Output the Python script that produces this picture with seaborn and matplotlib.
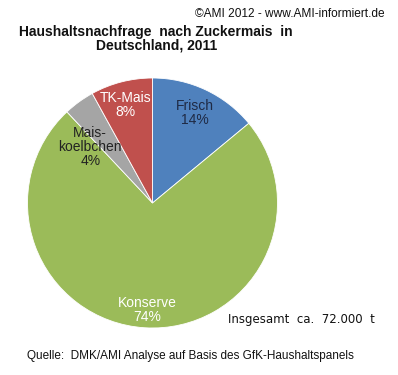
import numpy as np
import matplotlib
matplotlib.use("Agg")
import matplotlib.pyplot as plt
import seaborn as sns

sns.set_theme(style="white")
plt.rcParams['font.family'] = ['Liberation Sans', 'DejaVu Sans']

categories = ["Frisch", "Konserve", "Mais-\nkoelbchen", "TK-Mais"]
shares = [14, 74, 4, 8]
colors = ["#4F81BD", "#9BBB59", "#A5A5A5", "#C0504D"]
text_colors = ["#1F2A44", "white", "#222222", "white"]
label_radius = [0.80, 0.86, 0.67, 0.81]
label_angle_shift = [0, 1, 12, 1]

fig = plt.figure(figsize=(3.98, 3.75), dpi=100)
fig.patch.set_facecolor("white")
ax = fig.add_axes([27.5 / 398, 47 / 375, 250 / 398, 250 / 375])
wedges, _ = ax.pie(shares, colors=colors, startangle=90, counterclock=False,
                   radius=1, wedgeprops=dict(edgecolor="white", linewidth=0.6))
ax.set_xlim(-1, 1)
ax.set_ylim(-1, 1)
ax.set_aspect("auto")
ax.axis("off")

for w, cat, val, tc, r, da in zip(wedges, categories, shares, text_colors,
                                   label_radius, label_angle_shift):
    ang = np.deg2rad((w.theta1 + w.theta2) / 2 + da)
    ax.text(r * np.cos(ang), r * np.sin(ang), f"{cat}\n{val}%", ha="center",
            va="center", fontsize=10, color=tc, linespacing=1.0)

fig.text(385 / 398, 1 - 14 / 375, "©AMI 2012 - www.AMI-informiert.de",
         ha="right", va="center", fontsize=8.6, color="#111111")
fig.text(156 / 398, 1 - 32 / 375, "Haushaltsnachfrage  nach Zuckermais  in",
         ha="center", va="center", fontsize=10, fontweight="bold", color="#111111")
fig.text(157 / 398, 1 - 45 / 375, "Deutschland, 2011",
         ha="center", va="center", fontsize=10, fontweight="bold", color="#111111")
fig.text(375 / 398, 1 - 319 / 375, "Insgesamt  ca.  72.000  t",
         ha="right", va="center", fontsize=8.5, color="#111111",
         family=["DejaVu Sans"])
fig.text(27 / 398, 1 - 356 / 375,
         "Quelle:  DMK/AMI Analyse auf Basis des GfK-Haushaltspanels",
         ha="left", va="center", fontsize=8.5, color="#111111")

fig.savefig("out.png", dpi=100, facecolor="white")
